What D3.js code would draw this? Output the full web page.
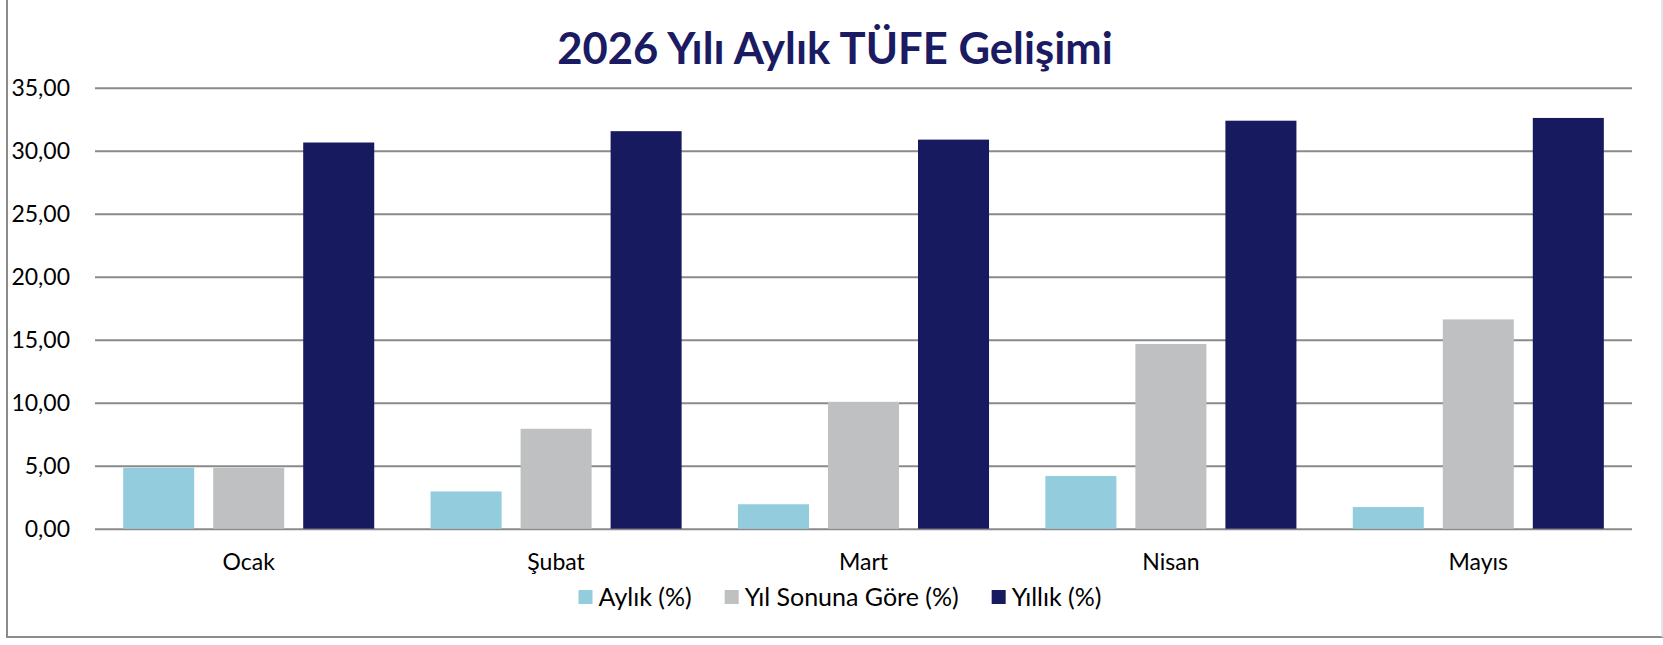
<!DOCTYPE html>
<html>
<head>
<meta charset="utf-8">
<script src="https://cdn.jsdelivr.net/npm/d3@7"></script>
<style>
  html, body { margin: 0; padding: 0; background: #ffffff; }
  svg { display: block; }
  text { font-family: Lato, "Open Sans", sans-serif; }
</style>
</head>
<body>
<svg id="chart" width="1663" height="645"></svg>
<script>
// ---- data ----
const title = "2026 Yılı Aylık TÜFE Gelişimi";
const categories = ["Ocak", "Şubat", "Mart", "Nisan", "Mayıs"];
const seriesNames = ["Aylık (%)", "Yıl Sonuna Göre (%)", "Yıllık (%)"];
const aylik = [4.84, 2.96, 1.94, 4.18, 1.72];
const yilSonunaGore = [4.84, 7.93, 10.07, 14.66, 16.61];
const yillik = [30.65, 31.55, 30.88, 32.38, 32.60];
const yTicks = [0, 5, 10, 15, 20, 25, 30, 35];
const seriesColors = ["#93CDDD", "#BFC0C2", "#181A60"];

const seriesValues = [aylik, yilSonunaGore, yillik];

// ---- layout ----
const svg = d3.select("#chart");
const plot = { left: 95, right: 1632, top: 87.7, bottom: 528.7 };

// frame
svg.append("line").attr("x1", 7).attr("x2", 7).attr("y1", 0).attr("y2", 638)
  .attr("stroke", "#8c8c8c").attr("stroke-width", 2);
svg.append("line").attr("x1", 6).attr("x2", 1663).attr("y1", 637).attr("y2", 637)
  .attr("stroke", "#8c8c8c").attr("stroke-width", 2);
svg.append("line").attr("x1", 1662).attr("x2", 1662).attr("y1", 0).attr("y2", 637)
  .attr("stroke", "#dcdcdc").attr("stroke-width", 1.5);

// scales
const x0 = d3.scaleBand().domain(categories).range([plot.left, plot.right]).padding(0);
const x1 = d3.scaleBand().domain(seriesNames).range([0, x0.bandwidth()])
  .paddingInner(0.211).paddingOuter(0.313);
const y = d3.scaleLinear().domain([0, 35]).range([plot.bottom, plot.top]);

// grid + y axis
const yAxis = d3.axisLeft(y).tickValues(yTicks)
  .tickFormat(d => d3.format(".2f")(d).replace(".", ","))
  .tickSize(-(plot.right - plot.left)).tickPadding(25);
const gy = svg.append("g").attr("transform", `translate(${plot.left},0)`).call(yAxis);
gy.select(".domain").remove();
gy.selectAll(".tick line").attr("stroke", "#8a8a8a").attr("stroke-width", 2);
gy.selectAll(".tick text").attr("font-size", 23).attr("fill", "#000")
  .attr("font-family", "Lato").attr("dy", "0.35em");

// bars
const groups = svg.append("g").selectAll("g").data(categories).join("g")
  .attr("transform", d => `translate(${x0(d)},0)`);
groups.selectAll("rect")
  .data((c, i) => seriesNames.map((s, k) => ({ s, k, v: seriesValues[k][i] })))
  .join("rect")
  .attr("x", d => x1(d.s))
  .attr("width", x1.bandwidth())
  .attr("y", d => y(d.v))
  .attr("height", d => y(0) - y(d.v))
  .attr("fill", d => seriesColors[d.k]);

// x axis labels
const xAxis = d3.axisBottom(x0).tickSize(0).tickPadding(25);
const gx = svg.append("g").attr("transform", `translate(0,${plot.bottom})`).call(xAxis);
gx.select(".domain").remove();
gx.selectAll(".tick text").attr("font-size", 23).attr("fill", "#000").attr("font-family", "Lato");

// title
svg.append("text").attr("x", 835).attr("y", 64).attr("text-anchor", "middle")
  .attr("font-size", 43.6).attr("font-weight", "bold").attr("fill", "#1B1B63")
  .attr("font-family", "Lato").text(title);

// legend
const legend = svg.append("g");
let cx = 0;
seriesNames.forEach((name, k) => {
  const g = legend.append("g");
  g.append("rect").attr("x", 0).attr("y", -7).attr("width", 14).attr("height", 14)
    .attr("fill", seriesColors[k]);
  const t = g.append("text").attr("x", 20).attr("y", 0).attr("dy", "0.35em")
    .attr("font-size", 25).attr("fill", "#000").text(name);
  const w = 20 + t.node().getComputedTextLength();
  g.attr("transform", `translate(${cx},0)`);
  cx += w + 33;
});
const totalW = cx - 33;
legend.attr("transform", `translate(${840 - totalW / 2},597)`);
</script>
</body>
</html>
